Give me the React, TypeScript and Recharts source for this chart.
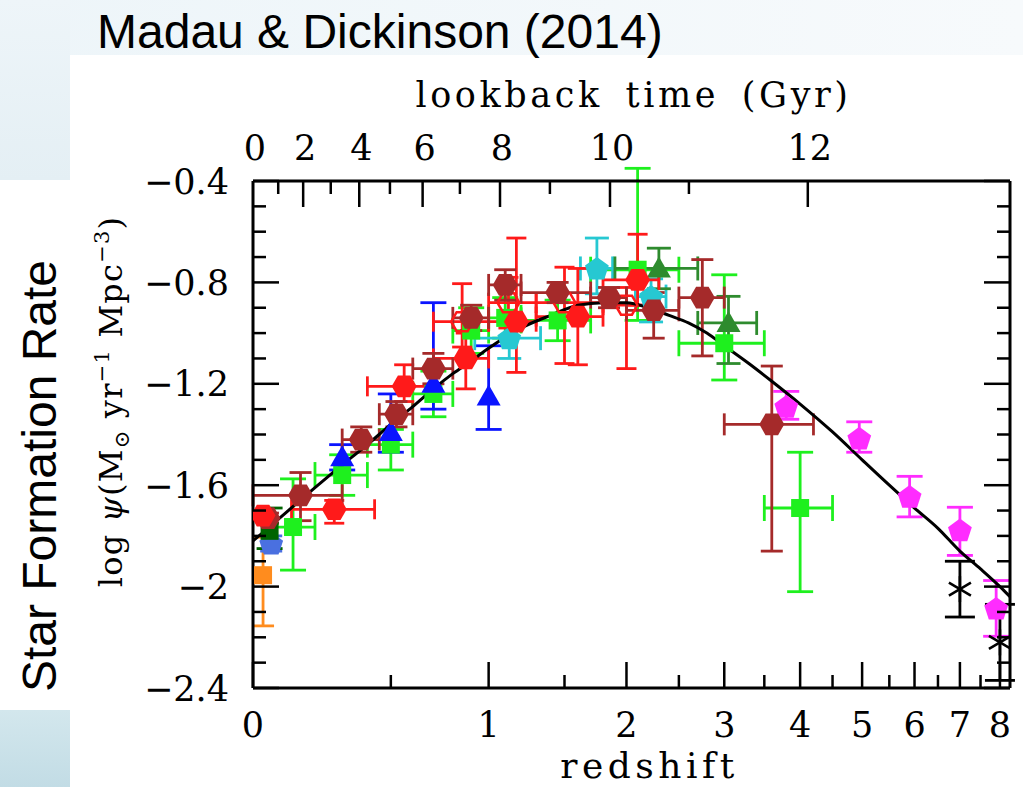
import React from "react";
import { ComposedChart, Scatter, Line, XAxis, YAxis, ErrorBar, Label } from "recharts";

// top axis: lookback time (Gyr) and the redshift where each tick sits
const lookbackGyr = [0, 1, 2, 3, 4, 5, 6, 7, 8, 9, 10, 11, 12];
const lookbackZ = [0, 0.077, 0.159, 0.257, 0.367, 0.496, 0.647, 0.838, 1.068, 1.395, 1.858, 2.605, 4.114];

const redshiftMajor = [0, 1, 2, 3, 4, 5, 6, 7, 8];
const redshiftMinor = [0.5, 1.5, 2.5, 3.5, 4.5, 5.5, 6.5, 7.5];

const yMajor = [-2.4, -2, -1.6, -1.2, -0.8, -0.4];
const yMinor = [-2.3, -2.2, -2.1, -1.9, -1.8, -1.7, -1.5, -1.4, -1.3, -1.1, -1.0, -0.9, -0.7, -0.6, -0.5];

// binned rows: [z, zLow, zHigh, log psi, err up, err down]
const cucciati12 = [
  [0.125, 0.05, 0.2, -1.765, 0.19, 0.17],
  [0.3, 0.2, 0.4, -1.56, 0.08, 0.08],
  [0.5, 0.4, 0.6, -1.44, 0.06, 0.1],
  [0.7, 0.6, 0.8, -1.24, 0.09, 0.09],
  [0.9, 0.8, 1.0, -0.99, 0.09, 0.09],
  [1.1, 1.0, 1.2, -0.94, 0.08, 0.08],
  [1.45, 1.2, 1.7, -0.95, 0.08, 0.08],
  [2.1, 1.7, 2.5, -0.75, 0.4, 0.2],
  [3.0, 2.5, 3.5, -1.04, 0.27, 0.145],
  [4.0, 3.5, 4.5, -1.69, 0.22, 0.33],
];

const dahlen07 = [
  [1.125, 0.92, 1.33, -1.02, 0.08, 0.08],
  [1.75, 1.62, 1.88, -0.745, 0.12, 0.1],
  [2.225, 2.08, 2.37, -0.856, 0.07, 0.1],
];

const reddySteidel09 = [
  [2.3, 1.9, 2.7, -0.745, 0.08, 0.08],
  [3.05, 2.7, 3.4, -0.96, 0.105, 0.16],
];

const magnelli11 = [
  [0.85, 0.7, 1.0, -0.955, 0.15, 0.1],
  [1.12, 1.0, 1.3, -0.88, 0.1, 0.1],
  [1.5, 1.3, 1.8, -0.88, 0.14, 0.24],
  [2.0, 1.8, 2.3, -0.89, 0.07, 0.25],
];

const magnelli13 = [
  [0.27, 0.12, 0.43, -1.695, 0.035, 0.055],
  [0.56, 0.4, 0.7, -1.21, 0.085, 0.06],
  [0.87, 0.7, 1.0, -1.1, 0.1, 0.12],
  [1.17, 1.0, 1.3, -0.955, 0.33, 0.2],
  [1.6, 1.3, 1.8, -0.935, 0.19, 0.19],
  [2.1, 1.8, 2.3, -0.79, 0.18, 0.1],
];

const gruppioni13 = [
  [0.15, 0.0, 0.3, -1.64, 0.09, 0.1],
  [0.375, 0.3, 0.45, -1.42, 0.05, 0.05],
  [0.525, 0.45, 0.6, -1.32, 0.05, 0.05],
  [0.7, 0.6, 0.8, -1.14, 0.06, 0.06],
  [0.9, 0.8, 1.0, -0.94, 0.05, 0.05],
  [1.1, 1.0, 1.2, -0.81, 0.06, 0.06],
  [1.45, 1.2, 1.7, -0.84, 0.04, 0.04],
  [1.85, 1.7, 2.0, -0.86, 0.04, 0.04],
  [2.25, 2.0, 2.5, -0.91, 0.07, 0.11],
  [2.75, 2.5, 3.0, -0.86, 0.15, 0.23],
  [3.6, 3.0, 4.2, -1.36, 0.23, 0.5],
];

// unbinned rows: [z, log psi, err up, err down]
const schiminovich05 = [
  [0.3, -1.49, 0.05, 0.05],
  [0.5, -1.39, 0.15, 0.08],
  [0.7, -1.2, 0.32, 0.1],
  [1.0, -1.25, 0.2, 0.13],
];
const wyder05 = [[0.055, -1.83, 0.03, 0.03]];
const robotham11 = [[0.05, -1.78, 0.09, 0.07]];
const takeuchi03 = [[0.03, -1.955, 0.15, 0.2]];
const sanders03 = [[0.03, -1.72, 0.02, 0.02]];
const lowZBrown = [[0.045, -1.73, 0.02, 0.02]];
const bouwens12 = [
  [3.8, -1.29, 0.06, 0.05],
  [4.95, -1.415, 0.065, 0.055],
  [5.9, -1.645, 0.08, 0.08],
  [7.0, -1.777, 0.09, 0.1],
  [7.9, -2.086, 0.11, 0.11],
];
const schenker13 = [
  [7.0, -2.01, 0.11, 0.11],
  [8.0, -2.22, 0.15, 0.15],
];

// best-fit curve
const curveZ = [0, 0.1, 0.2, 0.3, 0.4, 0.5, 0.6, 0.7, 0.8, 0.9, 1.0, 1.2, 1.4, 1.6, 1.8, 2.0, 2.2, 2.4, 2.6, 2.8, 3.0, 3.3, 3.6, 4.0, 4.5, 5.0, 5.5, 6.0, 6.5, 7.0, 7.5, 8.0, 8.27];
const curveLogPsi = [-1.82, -1.71, -1.61, -1.52, -1.44, -1.36, -1.29, -1.22, -1.16, -1.11, -1.06, -0.98, -0.93, -0.89, -0.88, -0.88, -0.9, -0.93, -0.96, -1.0, -1.05, -1.12, -1.19, -1.28, -1.39, -1.5, -1.6, -1.69, -1.77, -1.86, -1.93, -2.0, -2.04];

const binned = (rows: number[][]) =>
  rows.map(([z, lo, hi, y, up, dn]) => ({ x: 1 + z, y, ex: [z - lo, hi - z], ey: [dn, up] }));
const plain = (rows: number[][]) => rows.map(([z, y, up, dn]) => ({ x: 1 + z, y, ey: [dn, up] }));

const curve = curveZ.map((z, i) => ({ x: 1 + z, y: curveLogPsi[i] }));

const series = [
  { name: "Takeuchi+03", data: plain(takeuchi03), color: "#ff8c1e", marker: "square", xErr: false, cap: 11 },
  { name: "Cucciati+12", data: binned(cucciati12), color: "#1ef01e", marker: "square", xErr: true, cap: 13 },
  { name: "Schiminovich+05", data: plain(schiminovich05), color: "#0a14ff", marker: "triangle", xErr: false, cap: 13 },
  { name: "Dahlen+07", data: binned(dahlen07), color: "#26c8d2", marker: "pentagon", xErr: true, cap: 12 },
  { name: "Reddy & Steidel 09", data: binned(reddySteidel09), color: "#2e8b2e", marker: "triangle", xErr: true, cap: 12 },
  { name: "Bouwens+12", data: plain(bouwens12), color: "#ff2cff", marker: "pentagon", xErr: false, cap: 13 },
  { name: "Schenker+13", data: plain(schenker13), color: "#000000", marker: "asterisk", xErr: false, cap: 15 },
  { name: "Wyder+05", data: plain(wyder05), color: "#4a70e0", marker: "pentagon", xErr: false, cap: 11 },
  { name: "Robotham & Driver 11", data: plain(robotham11), color: "#006400", marker: "square", xErr: false, cap: 13 },
  { name: "Magnelli+11", data: binned(magnelli11), color: "#ff1a1a", marker: "openhex", xErr: true, cap: 10 },
  { name: "Magnelli+13", data: binned(magnelli13), color: "#ff1a1a", marker: "hex", xErr: true, cap: 10 },
  { name: "lowz", data: plain(lowZBrown), color: "#a52a2a", marker: "hex", xErr: false, cap: 11 },
  { name: "Gruppioni+13", data: binned(gruppioni13), color: "#a52a2a", marker: "hex", xErr: true, cap: 11 },
  { name: "Sanders+03", data: plain(sanders03), color: "#ff1a1a", marker: "hex", xErr: false, cap: 10 },
];

const serif = "DejaVu Serif";
const near = (a: number, b: number) => Math.abs(a - b) < 1e-6;

function polygon(cx: number, cy: number, r: number, n: number, start: number) {
  const pts: string[] = [];
  for (let i = 0; i < n; i++) {
    const a = ((start + (360 / n) * i) * Math.PI) / 180;
    pts.push(`${cx + r * Math.cos(a)},${cy + r * Math.sin(a)}`);
  }
  return pts.join(" ");
}

function marker(kind: string, cx: number, cy: number, color: string) {
  if (cx == null || cy == null) return <g />;
  switch (kind) {
    case "hex":
      return <polygon points={polygon(cx, cy, 12.5, 6, 0)} fill={color} />;
    case "openhex":
      return <polygon points={polygon(cx, cy, 11, 6, 0)} fill="none" stroke={color} strokeWidth={2.5} />;
    case "pentagon":
      return <polygon points={polygon(cx, cy + 1, 12.5, 5, -90)} fill={color} />;
    case "triangle":
      return <polygon points={`${cx},${cy - 12} ${cx + 12},${cy + 9} ${cx - 12},${cy + 9}`} fill={color} />;
    case "asterisk":
      return (
        <g stroke={color} strokeWidth={2.5}>
          <line x1={cx} y1={cy - 13} x2={cx} y2={cy + 13} />
          <line x1={cx - 11} y1={cy - 6.5} x2={cx + 11} y2={cy + 6.5} />
          <line x1={cx - 11} y1={cy + 6.5} x2={cx + 11} y2={cy - 6.5} />
        </g>
      );
    default:
      return <rect x={cx - 9} y={cy - 9} width={18} height={18} fill={color} />;
  }
}

const bottomTicks = [...redshiftMajor, ...redshiftMinor].map((z) => 1 + z).sort((a, b) => a - b);
const topTicks = lookbackZ.map((z) => 1 + z);
const yTicks = [...yMajor, ...yMinor].sort((a, b) => a - b);

const BottomTick = (props: any) => {
  const { x, y, payload } = props;
  const z = payload.value - 1;
  const major = redshiftMajor.some((m) => near(m, z));
  return (
    <g>
      <line x1={x} y1={y} x2={x} y2={y - (major ? 26 : 13)} stroke="#000" strokeWidth={2.5} />
      {major && (
        <text x={x} y={y + 49} textAnchor="middle" fontFamily={serif} fontSize={35} fill="#000">
          {Math.round(z)}
        </text>
      )}
    </g>
  );
};

const TopTick = (props: any) => {
  const { x, y, payload } = props;
  const i = lookbackZ.findIndex((z) => near(1 + z, payload.value));
  const gyr = lookbackGyr[i];
  const major = gyr % 2 === 0;
  return (
    <g>
      {gyr > 0 && <line x1={x} y1={y} x2={x} y2={y + (major ? 26 : 13)} stroke="#000" strokeWidth={2.5} />}
      {major && (
        <text x={x + 2} y={y - 21} textAnchor="middle" fontFamily={serif} fontSize={35} fill="#000">
          {gyr}
        </text>
      )}
    </g>
  );
};

const LeftTick = (props: any) => {
  const { x, y, payload } = props;
  const major = yMajor.some((m) => near(m, payload.value));
  return (
    <g>
      <line x1={x} y1={y} x2={x + (major ? 26 : 13)} y2={y} stroke="#000" strokeWidth={2.5} />
      {major && (
        <text x={x - 24} y={y} dy="0.36em" textAnchor="end" fontFamily={serif} fontSize={35} fill="#000">
          {String(payload.value).replace("-", "\u2212")}
        </text>
      )}
    </g>
  );
};

const RightTick = (props: any) => {
  const { x, y, payload } = props;
  const major = yMajor.some((m) => near(m, payload.value));
  return <line x1={x} y1={y} x2={x - (major ? 26 : 13)} y2={y} stroke="#000" strokeWidth={2.5} />;
};

const axisLine = { stroke: "#000", strokeWidth: 3 };

export default function App() {
  return (
    <div style={{ position: "absolute", left: 0, top: 0, width: 1023, height: 787, background: "#fff", overflow: "hidden" }}>
      <div style={{ position: "absolute", left: 0, top: 0, width: 1023, height: 55, background: "linear-gradient(to right, #edf5f9, #f7fafc)" }} />
      <div style={{ position: "absolute", left: 0, top: 0, width: 70, height: 180, background: "linear-gradient(#eef5f9, #e4eff4)" }} />
      <div style={{ position: "absolute", left: 0, top: 710, width: 70, height: 77, background: "linear-gradient(#d3e7ed, #c2dce5)" }} />
      <div
        style={{
          position: "absolute",
          left: 97,
          top: 8,
          fontFamily: "Liberation Sans, Arial, sans-serif",
          fontSize: 48,
          lineHeight: "48px",
          whiteSpace: "nowrap",
          color: "#000",
        }}
      >
        Madau &amp; Dickinson (2014)
      </div>
      <div
        style={{
          position: "absolute",
          left: 40 - 240,
          top: 476 - 24,
          width: 480,
          textAlign: "center",
          transform: "rotate(-90deg)",
          fontFamily: "Liberation Sans, Arial, sans-serif",
          fontSize: 48,
          lineHeight: "48px",
          whiteSpace: "nowrap",
          color: "#000",
        }}
      >
        Star Formation Rate
      </div>
      <div style={{ position: "absolute", left: 0, top: 0 }}>
        <ComposedChart width={1023} height={787} margin={{ top: 0, right: 0, bottom: 0, left: 0 }}>
          <XAxis
            xAxisId={0}
            dataKey="x"
            type="number"
            scale="log"
            domain={[1, 9.27]}
            allowDataOverflow
            ticks={bottomTicks}
            interval={0}
            orientation="bottom"
            height={99}
            tickSize={0}
            tickMargin={0}
            tickLine={false}
            axisLine={axisLine}
            tick={BottomTick}
          >
            <Label
              content={(p: any) => {
                const vb = p.viewBox || { x: 253, y: 688, width: 757, height: 99 };
                return (
                  <text x={vb.x + vb.width / 2 + 18} y={vb.y + 90} textAnchor="middle" fontFamily={serif} fontSize={36} letterSpacing={4.5} fill="#000">
                    redshift
                  </text>
                );
              }}
            />
          </XAxis>
          <XAxis
            xAxisId="top"
            dataKey="x"
            type="number"
            scale="log"
            domain={[1, 9.27]}
            allowDataOverflow
            ticks={topTicks}
            interval={0}
            orientation="top"
            height={181}
            tickSize={0}
            tickMargin={0}
            tickLine={false}
            axisLine={axisLine}
            tick={TopTick}
          >
            <Label
              content={(p: any) => {
                const vb = p.viewBox || { x: 253, y: 0, width: 757, height: 181 };
                return (
                  <text x={vb.x + vb.width / 2 + 2} y={vb.y + 107} textAnchor="middle" fontFamily={serif} fontSize={35} letterSpacing={3.6} wordSpacing={8} fill="#000">
                    lookback time (Gyr)
                  </text>
                );
              }}
            />
          </XAxis>
          <YAxis
            yAxisId={0}
            dataKey="y"
            type="number"
            domain={[-2.4, -0.4]}
            allowDataOverflow
            ticks={yTicks}
            interval={0}
            width={253}
            tickSize={0}
            tickMargin={0}
            tickLine={false}
            axisLine={axisLine}
            tick={LeftTick}
          >
            <Label
              content={(p: any) => {
                const vb = p.viewBox || { x: 0, y: 181, width: 253, height: 507 };
                const cy = vb.y + vb.height / 2 - 33;
                return (
                  <text transform={`translate(122, ${cy}) rotate(-90)`} textAnchor="middle" fontFamily={serif} fontSize={32} letterSpacing={1.2} fill="#000">
                    log <tspan fontStyle="italic">ψ</tspan>(M<tspan fontSize={21} dy={7}>⊙</tspan>
                    <tspan dy={-7}> yr</tspan>
                    <tspan fontSize={21} dy={-13}>−1</tspan>
                    <tspan dy={13}> Mpc</tspan>
                    <tspan fontSize={21} dy={-13}>−3</tspan>
                    <tspan dy={13}>)</tspan>
                  </text>
                );
              }}
            />
          </YAxis>
          <YAxis
            yAxisId="right"
            dataKey="y"
            type="number"
            orientation="right"
            domain={[-2.4, -0.4]}
            allowDataOverflow
            ticks={yTicks}
            interval={0}
            width={13}
            tickSize={0}
            tickMargin={0}
            tickLine={false}
            axisLine={axisLine}
            tick={RightTick}
          />
          {series.map((s) => (
            <Scatter
              key={s.name}
              name={s.name}
              data={s.data}
              dataKey="y"
              xAxisId={0}
              yAxisId={0}
              fill={s.color}
              isAnimationActive={false}
              shape={(p: any) => marker(s.marker, p.cx, p.cy, s.color)}
            >
              {s.xErr && (
                <ErrorBar dataKey="ex" direction="x" width={s.cap} stroke={s.color} strokeWidth={2.8} isAnimationActive={false} />
              )}
              <ErrorBar dataKey="ey" direction="y" width={s.cap} stroke={s.color} strokeWidth={2.8} isAnimationActive={false} />
            </Scatter>
          ))}
          <Line
            data={curve}
            dataKey="y"
            xAxisId={0}
            yAxisId={0}
            type="monotone"
            stroke="#000"
            strokeWidth={3}
            dot={false}
            activeDot={false}
            isAnimationActive={false}
          />
        </ComposedChart>
      </div>
    </div>
  );
}
